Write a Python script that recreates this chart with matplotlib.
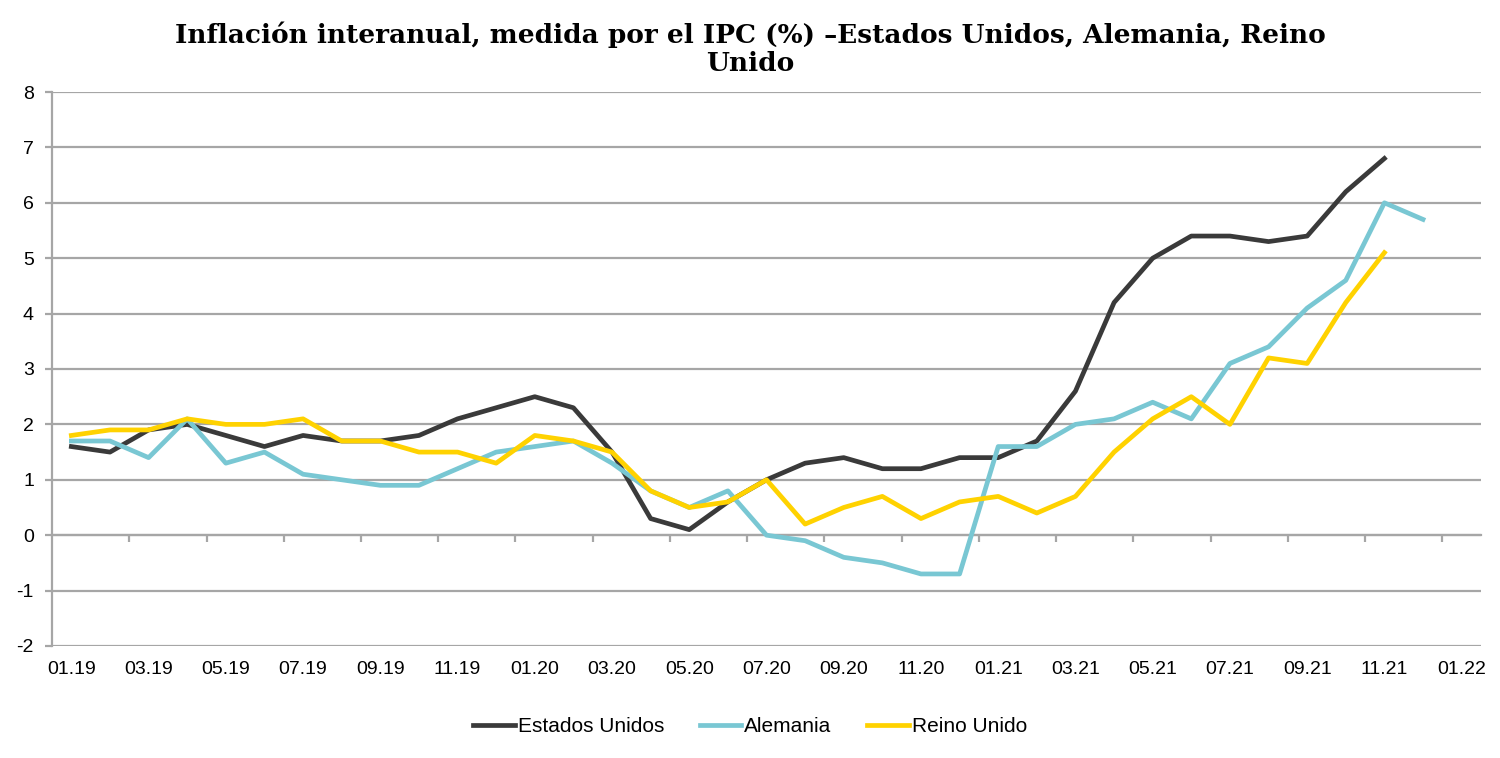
import matplotlib
matplotlib.use("Agg")
import matplotlib.pyplot as plt
import numpy as np

# meses 01.19 .. 01.22
months = ['01.19', '02.19', '03.19', '04.19', '05.19', '06.19', '07.19', '08.19', '09.19', '10.19', '11.19', '12.19',
          '01.20', '02.20', '03.20', '04.20', '05.20', '06.20', '07.20', '08.20', '09.20', '10.20', '11.20', '12.20',
          '01.21', '02.21', '03.21', '04.21', '05.21', '06.21', '07.21', '08.21', '09.21', '10.21', '11.21', '12.21',
          '01.22']

estados_unidos = [1.6, 1.5, 1.9, 2.0, 1.8, 1.6, 1.8, 1.7, 1.7, 1.8, 2.1, 2.3,
                  2.5, 2.3, 1.5, 0.3, 0.1, 0.6, 1.0, 1.3, 1.4, 1.2, 1.2, 1.4,
                  1.4, 1.7, 2.6, 4.2, 5.0, 5.4, 5.4, 5.3, 5.4, 6.2, 6.8]
alemania = [1.7, 1.7, 1.4, 2.1, 1.3, 1.5, 1.1, 1.0, 0.9, 0.9, 1.2, 1.5,
            1.6, 1.7, 1.3, 0.8, 0.5, 0.8, 0.0, -0.1, -0.4, -0.5, -0.7, -0.7,
            1.6, 1.6, 2.0, 2.1, 2.4, 2.1, 3.1, 3.4, 4.1, 4.6, 6.0, 5.7]
reino_unido = [1.8, 1.9, 1.9, 2.1, 2.0, 2.0, 2.1, 1.7, 1.7, 1.5, 1.5, 1.3,
               1.8, 1.7, 1.5, 0.8, 0.5, 0.6, 1.0, 0.2, 0.5, 0.7, 0.3, 0.6,
               0.7, 0.4, 0.7, 1.5, 2.1, 2.5, 2.0, 3.2, 3.1, 4.2, 5.1]

plt.rcParams['font.family'] = ['Liberation Sans', 'DejaVu Sans']
plt.rcParams['axes.unicode_minus'] = False

grid_col = '#a6a6a6'

fig = plt.figure(figsize=(15, 7.58), dpi=100)
ax = fig.add_axes([0.0347, 0.1478, 0.9526, 0.7308])

x = np.arange(len(months))
ax.plot(x[:len(estados_unidos)], estados_unidos, color='#3a3a3a', lw=3.4, label='Estados Unidos')
ax.plot(x[:len(alemania)], alemania, color='#79c7d3', lw=3.4, label='Alemania')
ax.plot(x[:len(reino_unido)], reino_unido, color='#ffd200', lw=3.4, label='Reino Unido')

ax.set_xlim(-0.5, len(months) - 0.5)
ax.set_ylim(-2, 8)
ax.set_yticks(range(-2, 9))
ax.yaxis.grid(True, color=grid_col, lw=1.6)
ax.set_axisbelow(True)

for s in ['top', 'right', 'bottom']:
    ax.spines[s].set_visible(False)
ax.spines['left'].set_color(grid_col)
ax.spines['left'].set_linewidth(1.6)
ax.tick_params(axis='y', length=5, width=1.6, color=grid_col, labelsize=14, pad=8)

# etiquetas del eje x abajo
ax.set_xticks(x[::2])
ax.set_xticklabels(months[::2])
ax.tick_params(axis='x', length=0, labelsize=14, pad=11)

# eje horizontal en cero con marcas entre categorias
sec = ax.secondary_xaxis(0.2)
sec.set_xticks(np.arange(1.5, len(months) - 1, 2))
sec.set_xticklabels([])
sec.tick_params(length=5, width=1.6, color=grid_col, direction='out')
sec.spines['bottom'].set_color(grid_col)
sec.spines['bottom'].set_linewidth(1.6)

fig.text(0.5, 0.936, 'Inflación interanual, medida por el IPC (%) \u2013Estados Unidos, Alemania, Reino\nUnido',
         ha='center', va='center', fontsize=19, fontweight='bold', family='DejaVu Serif', linespacing=1.15)

fig.legend(loc='center', bbox_to_anchor=(0.5, 0.041), ncol=3, frameon=False, fontsize=15,
           handlelength=2.0, handletextpad=0.15, columnspacing=1.7)

fig.savefig('out.png', dpi=100)
